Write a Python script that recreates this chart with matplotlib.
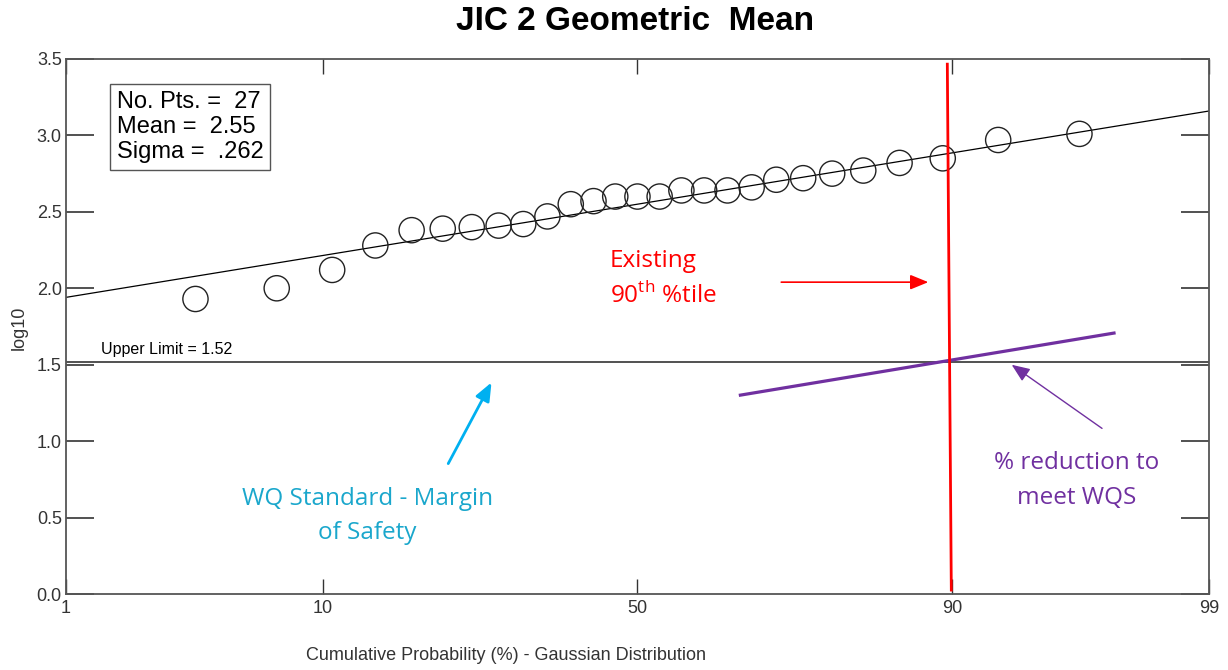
import numpy as np
import matplotlib
matplotlib.use("Agg")
from matplotlib import pyplot as plt
from statistics import NormalDist

# cumulative probability (%) of each ranked sample, and its log10 value
cum_prob = [3.6, 7.1, 10.7, 14.3, 17.9, 21.4, 25.0, 28.6, 32.1, 35.7, 39.3, 42.9, 46.4, 50.0,
            53.6, 57.1, 60.7, 64.3, 67.9, 71.4, 75.0, 78.6, 82.1, 85.7, 89.3, 92.9, 96.4]
log_vals = [1.93, 2.00, 2.12, 2.28, 2.38, 2.39, 2.40, 2.41, 2.42, 2.47, 2.55, 2.57, 2.60, 2.60,
            2.60, 2.64, 2.64, 2.64, 2.66, 2.71, 2.72, 2.75, 2.77, 2.82, 2.85, 2.97, 3.01]
n_pts = 27
mean = 2.55
sigma = 0.262
upper_limit = 1.52

x_ticks = [1, 10, 50, 90, 99]
y_ticks = [0.0, 0.5, 1.0, 1.5, 2.0, 2.5, 3.0, 3.5]

nd = NormalDist()
_ppf = np.vectorize(lambda v: nd.inv_cdf(v / 100.0), otypes=[float])
_cdf = np.vectorize(lambda v: nd.cdf(v) * 100.0, otypes=[float])


def fwd(p):
    p = np.clip(np.asarray(p, dtype=float), 0.01, 99.99)
    return _ppf(p)


def inv(z):
    return _cdf(np.asarray(z, dtype=float))


plt.rcParams['font.family'] = ['Liberation Sans', 'DejaVu Sans']
plt.rcParams['mathtext.fontset'] = 'custom'
plt.rcParams['mathtext.rm'] = 'Open Sans'

fig = plt.figure(figsize=(12.28, 6.7), dpi=100)
ax = fig.add_axes([0.0537, 0.1134, 0.9308, 0.7986])
ax.set_xscale('function', functions=(fwd, inv))
ax.set_xlim(1, 99)
ax.set_ylim(0, 3.5)

# fitted line
zz = np.linspace(fwd(1), fwd(99), 50)
ax.plot(inv(zz), mean + sigma * zz, color='black', lw=0.9)

ax.scatter(cum_prob, log_vals, s=330, facecolors='none', edgecolors='#222222', linewidths=1.0, zorder=3)

ax.axhline(upper_limit, color='#222222', lw=1.1)
ax.text(1.45, upper_limit + 0.03, "Upper Limit = 1.52", fontsize=11.5, ha='left', va='bottom')

# stats box
ax.text(1.70, 3.054, "No. Pts. =  %d\nMean =  %.2f\nSigma =  .262" % (n_pts, mean),
        fontsize=17, va='center', ha='left', linespacing=1.18,
        bbox=dict(boxstyle='square,pad=0.3', fc='white', ec='#555555', lw=1.0))

arrow_head = '-|>,head_length=1.1,head_width=0.45'

# red 90th percentile line and arrow
ax.plot([89.64, 89.93], [3.466, 0.026], color='#ff0000', lw=2.0, zorder=4)
ax.annotate("", xy=(88.4, 2.04), xytext=(71.7, 2.04),
            arrowprops=dict(arrowstyle=arrow_head, color='#ff0000', lw=1.2))
ax.text(45.5, 2.18, "Existing", color='#ff0000', fontsize=17.5, family='Open Sans', va='center', ha='left')
ax.text(45.5, 1.95, r"90$^{\mathrm{th}}$ %tile", color='#ff0000', fontsize=17.5, family='Open Sans',
        va='center', ha='left')

# purple reduction line and arrow
ax.plot([66.24, 97.38], [1.301, 1.707], color='#7030a0', lw=2.3)
ax.annotate("", xy=(93.5, 1.51), xytext=(97.13, 1.073),
            arrowprops=dict(arrowstyle=arrow_head, color='#7030a0', lw=1.0))
ax.text(96.3, 0.745, "% reduction to\nmeet WQS", color='#7030a0', fontsize=17.5,
        family='Open Sans', ha='center', va='center', linespacing=1.6)

# blue margin of safety arrow
ax.annotate("", xy=(27.8, 1.40), xytext=(21.9, 0.837),
            arrowprops=dict(arrowstyle=arrow_head, color='#00b0f0', lw=2.0))
ax.text(13.6, 0.51, "WQ Standard - Margin\nof Safety", color='#1aa7cc', fontsize=17.5,
        family='Open Sans', ha='center', va='center', linespacing=1.6)

ax.set_xticks(x_ticks)
ax.set_xticklabels([str(t) for t in x_ticks])
ax.set_yticks(y_ticks)
ax.set_yticklabels(["%.1f" % t for t in y_ticks])
ax.minorticks_off()
ax.tick_params(axis='y', direction='in', length=20, width=1.2, color='#333333', labelsize=13,
               labelcolor='#333333', right=True, pad=3)
ax.tick_params(axis='x', direction='in', length=11, width=1.0, color='#333333', labelsize=13,
               labelcolor='#333333', top=True, pad=4)
for sp in ax.spines.values():
    sp.set_color('#555555')
    sp.set_linewidth(1.3)

fig.text(0.517, 0.968, "JIC 2 Geometric  Mean", fontsize=24, fontweight='bold', ha='center', va='center')
fig.text(0.0155, 0.51, "log10", fontsize=13, color='#333333', rotation=90, ha='center', va='center')
fig.text(0.412, 0.021, "Cumulative Probability (%) - Gaussian Distribution", fontsize=13, color='#333333',
         ha='center', va='center')

fig.savefig("out.png", dpi=100)
